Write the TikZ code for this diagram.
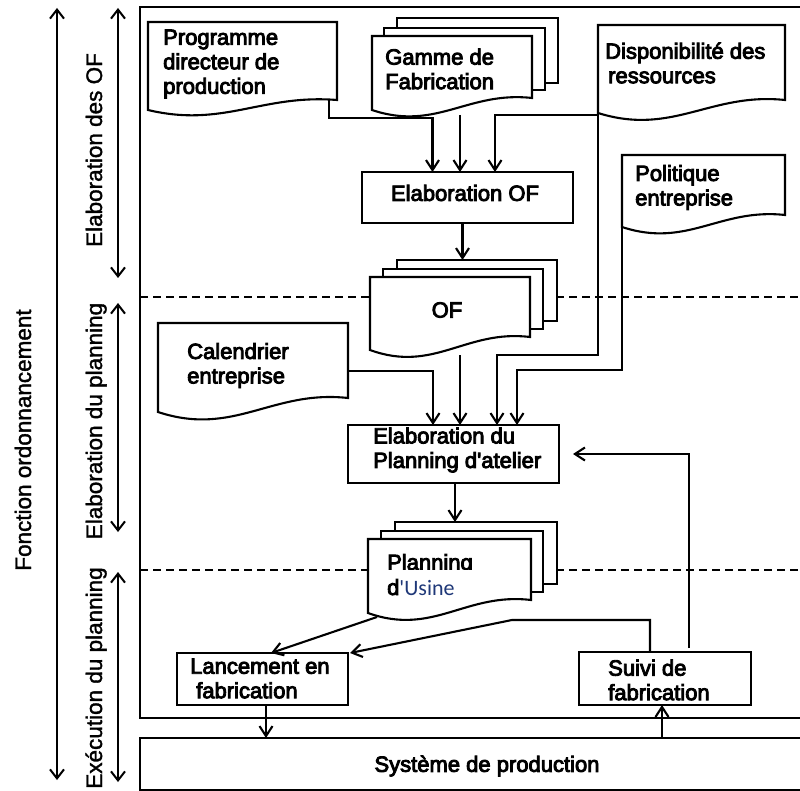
\documentclass[tikz,border=0pt]{standalone}
\usepackage{fontspec}
\setmainfont{Liberation Sans}
\newfontfamily\boxfont[FakeBold=4]{Liberation Sans}
\newfontfamily\sidefont[FakeBold=1.5]{Liberation Sans}
\newfontfamily\addfont{Carlito}
\usetikzlibrary{arrows.meta,calc,fit}
\definecolor{navytext}{RGB}{31,56,120}

\tikzset{
  line/.style={line width=2.1pt, line join=miter},
  arr/.style={line, -{Straight Barb[length=10pt,width=13pt]}},
  darr/.style={line width=2pt, {Straight Barb[length=9pt,width=14pt]}-{Straight Barb[length=9pt,width=14pt]}},
  sep/.style={line width=1.8pt, dash pattern=on 8pt off 5pt},
  area/.style={fit={#1}, inner sep=0pt, outer sep=0pt},
  procbox/.style={area={#1}, draw, line width=2.1pt, fill=white},
  txt/.style={font=\boxfont\fontsize{22}{24.5}\selectfont, align=left, inner sep=0pt},
  sidelbl/.style={font=\sidefont\fontsize{22.5}{26}\selectfont, rotate=90, inner sep=0pt, anchor=base}
}

% document symbol with a wavy lower edge
\newcommand\docpath[2]{%
  \draw[line, fill=white] (#1.south west) -- (#1.north west) -- (#1.north east)
    -- ($(#1.south east)+(0,-#2)$)
    .. controls ($(#1.south east)!0.4!(#1.south west)+(0,-1.6*#2)$)
       and ($(#1.south east)!0.6!(#1.south west)+(0,1.8*#2)$) .. (#1.south west) -- cycle;}
% sheet behind a document stack
\newcommand\backsheet[1]{\draw[line, fill=white] (#1.south west) rectangle (#1.north east);}

\begin{document}
\begin{tikzpicture}[x=1pt,y=-1pt]
\useasboundingbox (0,0) rectangle (800,791);
\clip (0,0) rectangle (800,791);

% ---- phase arrows on the left ----
\coordinate (fA) at (57,8);   \coordinate (fB) at (57,780);
\coordinate (p1A) at (118,8); \coordinate (p1B) at (118,278);
\coordinate (p2A) at (118,303); \coordinate (p2B) at (118,532);
\coordinate (p3A) at (118,572); \coordinate (p3B) at (118,782);
\draw[darr] (fA) -- (fB);
\draw[darr] (p1A) -- (p1B);
\draw[darr] (p2A) -- (p2B);
\draw[darr] (p3A) -- (p3B);
\node[sidelbl] (lblF) at (31,440) {Fonction ordonnancement};
\node[sidelbl] (lblP1) at (102,150) {Elaboration des OF};
\node[sidelbl] (lblP2) at (102,421) {Elaboration du planning};
\node[sidelbl] (lblP3) at (102,678) {Exécution du planning};

% ---- frame of the scheduling function ----
\draw[line] (810,7) -- (140,7) -- (140,718) -- (810,718);
\draw[sep] (140,297) -- (810,297);
\draw[sep] (140,570) -- (810,570);

% ---- production system ----
\node[procbox={(140,738) (810,790)}] (sys) {};
\node[txt] (sysT) at (487,766) {Système de production};

% ---- input documents ----
\node[area={(148,22) (337,110)}] (prog) {};
\docpath{prog}{10}
\node[txt, anchor=west] (progT) at (163,64) {Programme\\directeur de\\production};

\node[area={(397,18) (558,83)}] (gamB) {};
\node[area={(384,28) (545,90)}] (gamM) {};
\node[area={(372,36) (532,110)}] (gamme) {};
\backsheet{gamB}\backsheet{gamM}\docpath{gamme}{12}
\node[txt, anchor=west] (gamT) at (385,69) {Gamme de\\Fabrication};

\node[area={(598,25) (785,113)}] (dispo) {};
\docpath{dispo}{13}
\node[txt, anchor=west] (dispoT) at (605,63) {Disponibilité des\\\hspace{3pt}ressources};

\node[area={(622,155) (785,227)}] (poli) {};
\docpath{poli}{12}
\node[txt, anchor=west] (poliT) at (635,187.5) {Politique\\entreprise};

\node[area={(158,323) (348,412)}] (cal) {};
\docpath{cal}{14}
\node[txt, anchor=west] (calT) at (187,365.5) {Calendrier\\entreprise};

% ---- OF stack ----
\node[area={(397,260) (557,321)}] (ofB) {};
\node[area={(383,269) (543,329)}] (ofM) {};
\node[area={(370,277) (530,350)}] (of) {};
\backsheet{ofB}\backsheet{ofM}\docpath{of}{13}
\node[txt] (ofT) at (447,310) {OF};

% ---- planning stack ----
\node[area={(395,522) (557,584)}] (planB) {};
\node[area={(381,531) (543,592)}] (planM) {};
\node[area={(368,539) (531,613)}] (plan) {};
\backsheet{planB}\backsheet{planM}\docpath{plan}{13}
\begin{scope}
  \clip (380,540) rectangle (490,569);
  \node[txt, anchor=base west] (planT1) at (387,570) {Planning};
\end{scope}
\node[txt, anchor=base west] (planT2) at (387,595) {d{\addfont\color{navytext}'Usine}};

% ---- processing steps ----
\node[procbox={(362,172) (573,223)}] (elabof) {};
\node[txt] (elabofT) at (465,193) {Elaboration OF};

\node[procbox={(348,425) (559,483)}] (elabpl) {};
\node[txt, anchor=west] (elabplT) at (373,450) {Elaboration du\\Planning d'atelier};

\node[procbox={(177,653) (348,705)}] (lanc) {};
\node[txt, anchor=west] (lancT) at (190,678.5) {Lancement en\\\hspace{6pt}fabrication};

\node[procbox={(579,652) (751,705)}] (suivi) {};
\node[txt, anchor=west] (suiviT) at (608,680) {Suivi de\\fabrication};

% ---- flows into Elaboration OF ----
\draw[arr] ($(prog.south east)+(-8,-10)$) |- ($(elabof.north)+(-35,-54)$) -- ($(elabof.north)+(-35,0)$);
\draw[arr] ($(gamme.south)+(8,5)$) coordinate (g1) -- (g1 |- elabof.north);
\draw[arr] ($(dispo.south west)+(0,2)$) -| ($(elabof.north)+(27.5,0)$);
\draw[arr] ($(elabof.south)+(-5,0)$) coordinate (e1) -- (e1 |- ofB.north);

% ---- flows into Elaboration du planning ----
\draw[arr] ($(cal.east)+(0,3.5)$) -| ($(elabpl.north)+(-20.5,0)$);
\draw[arr] ($(of.south)+(10,5)$) coordinate (o1) -- (o1 |- elabpl.north);
\draw[arr] (dispo.south west) |- ($(elabpl.north)+(43.5,-70)$) -- ($(elabpl.north)+(43.5,0)$);
\draw[arr] (poli.south west) |- ($(elabpl.north)+(63.5,-55)$) -- ($(elabpl.north)+(63.5,0)$);
\draw[arr] ($(elabpl.south)+(1.5,0)$) coordinate (e2) -- (e2 |- planB.north);

% ---- execution ----
\draw[arr] ($(plan.south west)+(9,4)$) -- ($(lanc.north)+(8.5,0)$);
\draw[arr] ($(suivi.north)+(-15,0)$) -- ++(0,-32) -- ++(-138,0) -- ($(lanc.north east)+(2,0)$);
\draw[arr] ($(suivi.north)+(24,-4)$) |- ($(elabpl.east)+(14,0)$);
\draw[arr] ($(lanc.south)+(3.5,0)$) coordinate (l1) -- (l1 |- sys.north);
\coordinate (s1) at ($(suivi.south)+(-3,0)$);
\draw[arr] (s1 |- sys.north) -- (s1);
\end{tikzpicture}
\end{document}
